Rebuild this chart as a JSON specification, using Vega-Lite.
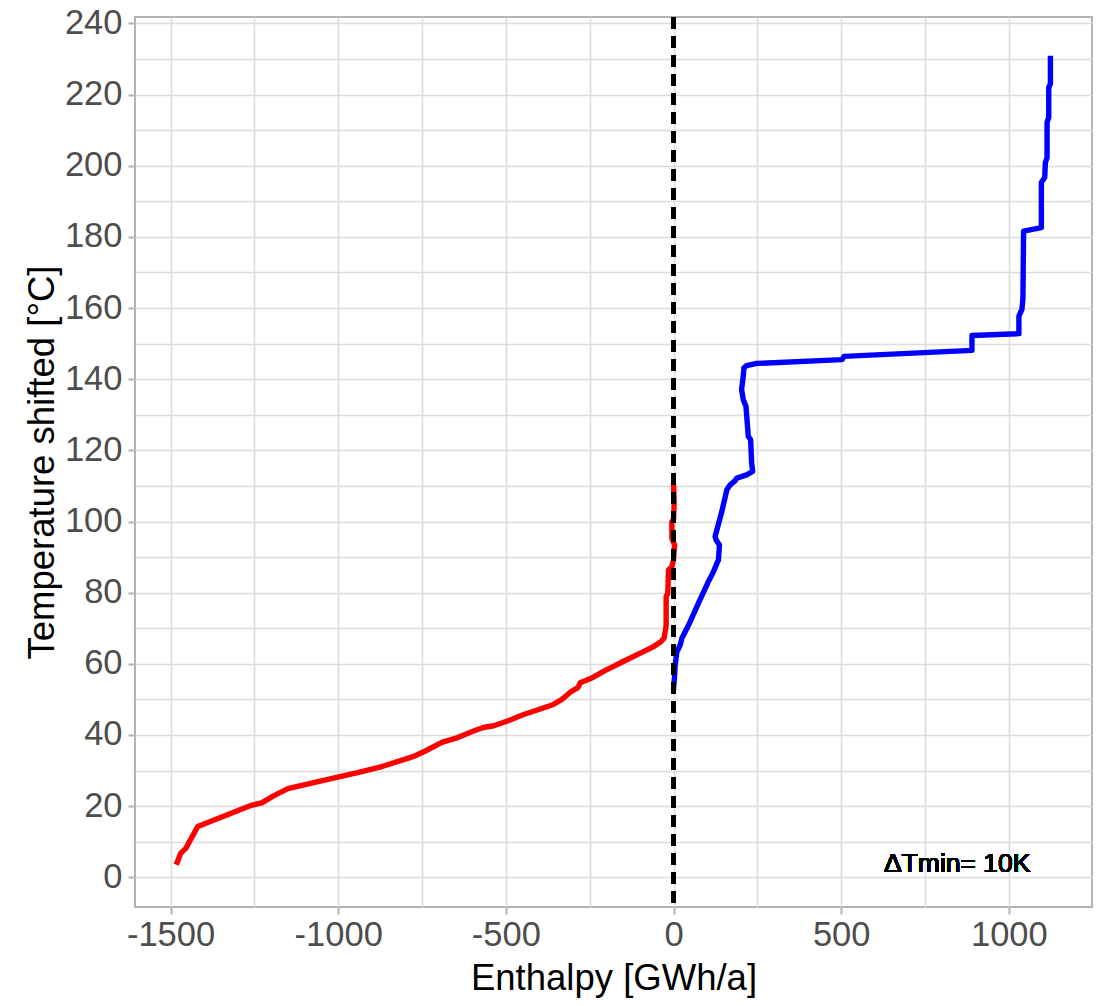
{
  "$schema": "https://vega.github.io/schema/vega-lite/v6.json",
  "width": 957,
  "height": 890,
  "autosize": "none",
  "padding": {"left": 135, "top": 17, "right": 18, "bottom": 99},
  "background": "white",
  "config": {
    "view": {"stroke": "#b3b3b3", "strokeWidth": 2},
    "font": "Liberation Sans",
    "axis": {
      "domain": false,
      "grid": true,
      "gridColor": "#dcdcdc",
      "gridWidth": 1.6,
      "tickColor": "#b3b3b3",
      "tickWidth": 2,
      "tickSize": 7,
      "labelFont": "Liberation Sans",
      "labelFontSize": 34.5,
      "labelColor": "#4d4d4d",
      "titleFont": "Liberation Sans",
      "titleFontSize": 36.5,
      "titleFontWeight": "normal",
      "titleColor": "#000000"
    }
  },
  "data": {
    "values": [
      {"s": "hot", "i": 1, "H": -1483, "T": 3.5},
      {"s": "hot", "i": 2, "H": -1470, "T": 6.7},
      {"s": "hot", "i": 3, "H": -1454, "T": 8.2},
      {"s": "hot", "i": 4, "H": -1419, "T": 14.3},
      {"s": "hot", "i": 5, "H": -1257, "T": 20.3},
      {"s": "hot", "i": 6, "H": -1228, "T": 20.9},
      {"s": "hot", "i": 7, "H": -1193, "T": 22.9},
      {"s": "hot", "i": 8, "H": -1150, "T": 24.9},
      {"s": "hot", "i": 9, "H": -1102, "T": 26},
      {"s": "hot", "i": 10, "H": -995, "T": 28.3},
      {"s": "hot", "i": 11, "H": -942, "T": 29.4},
      {"s": "hot", "i": 12, "H": -867, "T": 31.2},
      {"s": "hot", "i": 13, "H": -777, "T": 33.9},
      {"s": "hot", "i": 14, "H": -740, "T": 35.5},
      {"s": "hot", "i": 15, "H": -691, "T": 37.9},
      {"s": "hot", "i": 16, "H": -649, "T": 39.1},
      {"s": "hot", "i": 17, "H": -600, "T": 41},
      {"s": "hot", "i": 18, "H": -568, "T": 42.1},
      {"s": "hot", "i": 19, "H": -536, "T": 42.6},
      {"s": "hot", "i": 20, "H": -493, "T": 44},
      {"s": "hot", "i": 21, "H": -451, "T": 45.6},
      {"s": "hot", "i": 22, "H": -360, "T": 48.5},
      {"s": "hot", "i": 23, "H": -333, "T": 50},
      {"s": "hot", "i": 24, "H": -307, "T": 52.1},
      {"s": "hot", "i": 25, "H": -285, "T": 53.3},
      {"s": "hot", "i": 26, "H": -278, "T": 54.7},
      {"s": "hot", "i": 27, "H": -242, "T": 56.1},
      {"s": "hot", "i": 28, "H": -206, "T": 58},
      {"s": "hot", "i": 29, "H": -147, "T": 60.8},
      {"s": "hot", "i": 30, "H": -99, "T": 63},
      {"s": "hot", "i": 31, "H": -60, "T": 64.8},
      {"s": "hot", "i": 32, "H": -38, "T": 66.2},
      {"s": "hot", "i": 33, "H": -28, "T": 67.2},
      {"s": "hot", "i": 34, "H": -22, "T": 70.9},
      {"s": "hot", "i": 35, "H": -22, "T": 78.9},
      {"s": "hot", "i": 36, "H": -17, "T": 79.8},
      {"s": "hot", "i": 37, "H": -15, "T": 86.4},
      {"s": "hot", "i": 38, "H": -5, "T": 87.3},
      {"s": "hot", "i": 39, "H": 0, "T": 89.2},
      {"s": "hot", "i": 40, "H": 3, "T": 93.4},
      {"s": "hot", "i": 41, "H": -5, "T": 95.3},
      {"s": "hot", "i": 42, "H": -5, "T": 100},
      {"s": "hot", "i": 43, "H": 0, "T": 100.5},
      {"s": "hot", "i": 44, "H": 2, "T": 105.2},
      {"s": "hot", "i": 45, "H": 0, "T": 110.6},
      {"s": "cold", "i": 1, "H": 0, "T": 52.6},
      {"s": "cold", "i": 2, "H": 3, "T": 56.4},
      {"s": "cold", "i": 3, "H": 5, "T": 59.7},
      {"s": "cold", "i": 4, "H": 10, "T": 63.4},
      {"s": "cold", "i": 5, "H": 20, "T": 65.3},
      {"s": "cold", "i": 6, "H": 25, "T": 67.2},
      {"s": "cold", "i": 7, "H": 45, "T": 70.9},
      {"s": "cold", "i": 8, "H": 74, "T": 77},
      {"s": "cold", "i": 9, "H": 104, "T": 83.1},
      {"s": "cold", "i": 10, "H": 119, "T": 85.9},
      {"s": "cold", "i": 11, "H": 134, "T": 89.2},
      {"s": "cold", "i": 12, "H": 137, "T": 93.4},
      {"s": "cold", "i": 13, "H": 127, "T": 94.8},
      {"s": "cold", "i": 14, "H": 124, "T": 95.8},
      {"s": "cold", "i": 15, "H": 144, "T": 102.8},
      {"s": "cold", "i": 16, "H": 159, "T": 108.9},
      {"s": "cold", "i": 17, "H": 169, "T": 110.3},
      {"s": "cold", "i": 18, "H": 184, "T": 111.5},
      {"s": "cold", "i": 19, "H": 189, "T": 112.2},
      {"s": "cold", "i": 20, "H": 218, "T": 113.1},
      {"s": "cold", "i": 21, "H": 236, "T": 114.1},
      {"s": "cold", "i": 22, "H": 233, "T": 116.4},
      {"s": "cold", "i": 23, "H": 230, "T": 123},
      {"s": "cold", "i": 24, "H": 223, "T": 123.9},
      {"s": "cold", "i": 25, "H": 218, "T": 130},
      {"s": "cold", "i": 26, "H": 216, "T": 132.4},
      {"s": "cold", "i": 27, "H": 208, "T": 134.2},
      {"s": "cold", "i": 28, "H": 203, "T": 137.1},
      {"s": "cold", "i": 29, "H": 208, "T": 140.8},
      {"s": "cold", "i": 30, "H": 210, "T": 143.2},
      {"s": "cold", "i": 31, "H": 218, "T": 143.8},
      {"s": "cold", "i": 32, "H": 245, "T": 144.4},
      {"s": "cold", "i": 33, "H": 503, "T": 145.5},
      {"s": "cold", "i": 34, "H": 508, "T": 146.4},
      {"s": "cold", "i": 35, "H": 890, "T": 148.1},
      {"s": "cold", "i": 36, "H": 890, "T": 152.3},
      {"s": "cold", "i": 37, "H": 1030, "T": 152.8},
      {"s": "cold", "i": 38, "H": 1030, "T": 157.7},
      {"s": "cold", "i": 39, "H": 1039, "T": 159.6},
      {"s": "cold", "i": 40, "H": 1042, "T": 162.6},
      {"s": "cold", "i": 41, "H": 1044, "T": 181.6},
      {"s": "cold", "i": 42, "H": 1097, "T": 182.6},
      {"s": "cold", "i": 43, "H": 1097, "T": 195.3},
      {"s": "cold", "i": 44, "H": 1107, "T": 196.7},
      {"s": "cold", "i": 45, "H": 1109, "T": 200.9},
      {"s": "cold", "i": 46, "H": 1114, "T": 202.3},
      {"s": "cold", "i": 47, "H": 1114, "T": 212.2},
      {"s": "cold", "i": 48, "H": 1119, "T": 213.6},
      {"s": "cold", "i": 49, "H": 1119, "T": 222},
      {"s": "cold", "i": 50, "H": 1124, "T": 223},
      {"s": "cold", "i": 51, "H": 1124, "T": 230.9}
    ]
  },
  "encoding": {
    "x": {
      "type": "quantitative",
      "scale": {"domain": [-1606, 1248], "nice": false, "zero": false},
      "axis": {
        "title": "Enthalpy [GWh/a]",
        "values": [-1500, -1250, -1000, -750, -500, -250, 0, 250, 500, 750, 1000],
        "labelExpr": "datum.value % 500 === 0 ? '' + datum.value : ''",
        "tickOpacity": {"condition": {"test": "datum.value % 500 !== 0", "value": 0}, "value": 1},
        "labelPadding": 4,
        "titlePadding": 9
      }
    },
    "y": {
      "type": "quantitative",
      "scale": {"domain": [-8.35, 241.8], "nice": false, "zero": false},
      "axis": {
        "title": "Temperature shifted [°C]",
        "values": [0, 10, 20, 30, 40, 50, 60, 70, 80, 90, 100, 110, 120, 130, 140, 150, 160, 170, 180, 190, 200, 210, 220, 230, 240],
        "labelExpr": "datum.value % 20 === 0 ? '' + datum.value : ''",
        "tickOpacity": {"condition": {"test": "datum.value % 20 !== 0", "value": 0}, "value": 1},
        "labelPadding": 6,
        "titlePadding": 3
      }
    }
  },
  "layer": [
    {
      "mark": {"type": "line", "strokeWidth": 5.4, "strokeJoin": "round", "strokeCap": "butt"},
      "encoding": {
        "x": {"field": "H"},
        "y": {"field": "T"},
        "order": {"field": "i", "type": "quantitative"},
        "color": {
          "field": "s",
          "type": "nominal",
          "scale": {"domain": ["hot", "cold"], "range": ["#ff0000", "#0000ff"]},
          "legend": null
        }
      }
    },
    {
      "mark": {"type": "rule", "color": "#000000", "strokeWidth": 3.3, "strokeDash": [12, 7]},
      "encoding": {"x": {"datum": 0}}
    },
    {
      "mark": {"type": "text", "fontSize": 26.5, "font": "Liberation Sans", "fontWeight": "normal", "color": "#000000", "align": "center", "baseline": "middle"},
      "encoding": {
        "x": {"datum": 846},
        "y": {"datum": 3.7},
        "text": {"value": "ΔTmin= 10K"}
      }
    }
  ]
}
